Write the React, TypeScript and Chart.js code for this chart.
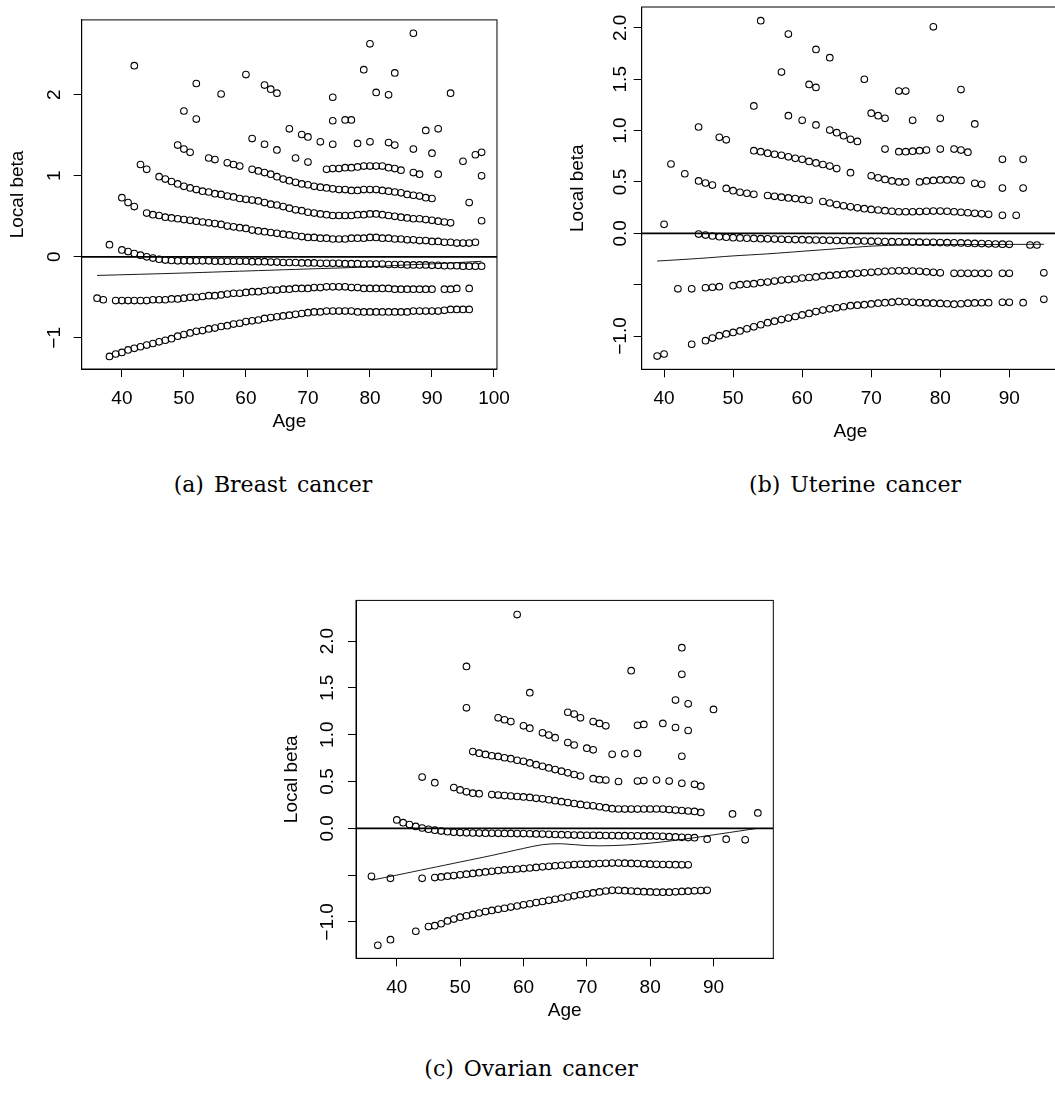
import React, { useEffect, useRef } from 'react';
import { Chart, registerables } from 'chart.js';

Chart.register(...registerables);

type Pt = [number, number];

// ---------------- (a) Breast cancer ----------------
const breastTop: Pt[] = [
  [42, 2.36], [50, 1.8], [52, 2.14], [52, 1.7], [56, 2.01], [60, 2.25], [61, 1.46], [63, 2.12], [63, 1.39],
  [64, 2.07], [65, 2.02], [65, 1.32], [67, 1.58], [68, 1.22], [69, 1.51], [70, 1.48], [70, 1.17], [72, 1.42],
  [74, 1.97], [74, 1.68], [74, 1.39], [76, 1.69], [77, 1.69], [78, 1.4], [79, 2.31], [80, 2.63], [80, 1.42],
  [81, 2.03], [83, 2.0], [83, 1.41], [84, 2.27], [84, 1.38], [87, 2.76], [87, 1.33], [87, 1.04], [88, 1.02],
  [89, 1.56], [90, 1.28], [91, 1.58], [91, 1.02], [93, 2.02], [95, 1.18], [96, 0.67], [97, 1.26], [98, 1.29],
  [98, 1.0], [98, 0.445],
];
const breastRow11: Pt[] = [
  [73, 1.08], [74, 1.09], [75, 1.09], [76, 1.1], [77, 1.1], [78, 1.11], [79, 1.12], [80, 1.12], [81, 1.12],
  [82, 1.12], [83, 1.1], [84, 1.09], [85, 1.07],
];
const breastRow08: Pt[] = [
  [49, 1.38], [50, 1.33], [51, 1.29], [54, 1.22], [55, 1.2], [57, 1.16], [58, 1.14], [59, 1.12], [61, 1.08],
  [62, 1.06], [63, 1.04], [64, 1.02], [65, 0.99], [66, 0.96], [67, 0.94], [68, 0.92], [69, 0.9], [70, 0.89],
  [71, 0.87], [72, 0.86], [73, 0.85], [74, 0.84], [75, 0.83], [76, 0.83], [77, 0.82], [78, 0.82], [79, 0.83],
  [80, 0.83], [81, 0.83], [82, 0.82], [83, 0.81], [84, 0.8], [85, 0.79], [86, 0.77], [87, 0.76], [88, 0.75],
  [89, 0.73], [90, 0.72],
];
const breastRow05: Pt[] = [
  [43, 1.14], [44, 1.08], [46, 0.99], [47, 0.96], [48, 0.93], [49, 0.9], [50, 0.87], [51, 0.85], [52, 0.83],
  [53, 0.81], [54, 0.8], [55, 0.78], [56, 0.77], [57, 0.75], [58, 0.74], [59, 0.72], [60, 0.71], [61, 0.7],
  [62, 0.69], [63, 0.67], [64, 0.65], [65, 0.64], [66, 0.62], [67, 0.6], [68, 0.58], [69, 0.57], [70, 0.55],
  [71, 0.54], [72, 0.53], [73, 0.52], [74, 0.51], [75, 0.51], [76, 0.51], [77, 0.51], [78, 0.52], [79, 0.52],
  [80, 0.53], [81, 0.53], [82, 0.52], [83, 0.51], [84, 0.5], [85, 0.49], [86, 0.48], [87, 0.47], [88, 0.47],
  [89, 0.46], [90, 0.45], [91, 0.44], [92, 0.43], [93, 0.42],
];
const breastRow02: Pt[] = [
  [40, 0.73], [41, 0.67], [42, 0.62], [44, 0.54], [45, 0.52], [46, 0.51], [47, 0.49], [48, 0.48], [49, 0.47],
  [50, 0.46], [51, 0.45], [52, 0.44], [53, 0.43], [54, 0.42], [55, 0.41], [56, 0.4], [57, 0.38], [58, 0.37],
  [59, 0.36], [60, 0.35], [61, 0.33], [62, 0.32], [63, 0.31], [64, 0.3], [65, 0.29], [66, 0.28], [67, 0.27],
  [68, 0.26], [69, 0.25], [70, 0.24], [71, 0.24], [72, 0.23], [73, 0.23], [74, 0.22], [75, 0.22], [76, 0.22],
  [77, 0.23], [78, 0.23], [79, 0.23], [80, 0.24], [81, 0.24], [82, 0.23], [83, 0.23], [84, 0.22], [85, 0.22],
  [86, 0.21], [87, 0.21], [88, 0.2], [89, 0.2], [90, 0.19], [91, 0.19], [92, 0.18], [93, 0.18], [94, 0.17],
  [95, 0.17], [96, 0.17], [97, 0.18],
];
const breastRow00: Pt[] = [
  [38, 0.15], [40, 0.085], [41, 0.065], [42, 0.04], [43, 0.02], [44, 0.0], [45, -0.015], [46, -0.03],
  [47, -0.04], [48, -0.045], [49, -0.05], [50, -0.05], [51, -0.05], [52, -0.05], [53, -0.05], [54, -0.05],
  [55, -0.055], [56, -0.055], [57, -0.055], [58, -0.055], [59, -0.055], [60, -0.055], [61, -0.06], [62, -0.06],
  [63, -0.06], [64, -0.065], [65, -0.065], [66, -0.07], [67, -0.07], [68, -0.07], [69, -0.075], [70, -0.075],
  [71, -0.075], [72, -0.08], [73, -0.08], [74, -0.08], [75, -0.08], [76, -0.085], [77, -0.085], [78, -0.085],
  [79, -0.09], [80, -0.09], [81, -0.09], [82, -0.09], [83, -0.095], [84, -0.095], [85, -0.095], [86, -0.1],
  [87, -0.1], [88, -0.1], [89, -0.1], [90, -0.105], [91, -0.105], [92, -0.11], [93, -0.11], [94, -0.11],
  [95, -0.115], [96, -0.115], [97, -0.115], [98, -0.115],
];
const breastRowM04: Pt[] = [
  [36, -0.51], [37, -0.53], [39, -0.54], [40, -0.54], [41, -0.54], [42, -0.54], [43, -0.54], [44, -0.54],
  [45, -0.53], [46, -0.53], [47, -0.53], [48, -0.52], [49, -0.52], [50, -0.51], [51, -0.5], [52, -0.5],
  [53, -0.49], [54, -0.48], [55, -0.48], [56, -0.47], [57, -0.46], [58, -0.45], [59, -0.45], [60, -0.44],
  [61, -0.43], [62, -0.43], [63, -0.42], [64, -0.41], [65, -0.41], [66, -0.4], [67, -0.4], [68, -0.39],
  [69, -0.39], [70, -0.39], [71, -0.38], [72, -0.38], [73, -0.37], [74, -0.37], [75, -0.37], [76, -0.37],
  [77, -0.38], [78, -0.38], [79, -0.39], [80, -0.39], [81, -0.39], [82, -0.39], [83, -0.39], [84, -0.4],
  [85, -0.4], [86, -0.4], [87, -0.4], [88, -0.4], [89, -0.4], [90, -0.4], [92, -0.4], [93, -0.4], [94, -0.39],
  [96, -0.39],
];
const breastRowM07: Pt[] = [
  [38, -1.23], [39, -1.2], [40, -1.18], [41, -1.15], [42, -1.13], [43, -1.11], [44, -1.09], [45, -1.07],
  [46, -1.05], [47, -1.03], [48, -1.01], [49, -0.98], [50, -0.96], [51, -0.94], [52, -0.92], [53, -0.91],
  [54, -0.89], [55, -0.88], [56, -0.86], [57, -0.85], [58, -0.83], [59, -0.82], [60, -0.8], [61, -0.79],
  [62, -0.78], [63, -0.76], [64, -0.75], [65, -0.74], [66, -0.73], [67, -0.72], [68, -0.71], [69, -0.7],
  [70, -0.69], [71, -0.68], [72, -0.68], [73, -0.67], [74, -0.67], [75, -0.67], [76, -0.67], [77, -0.67],
  [78, -0.68], [79, -0.68], [80, -0.68], [81, -0.68], [82, -0.68], [83, -0.68], [84, -0.68], [85, -0.68],
  [86, -0.68], [87, -0.67], [88, -0.67], [89, -0.67], [90, -0.67], [91, -0.67], [92, -0.66], [93, -0.65],
  [94, -0.65], [95, -0.65], [96, -0.65],
];
const breastSmooth: Pt[] = [
  [36, -0.23], [50, -0.2], [62, -0.17], [70, -0.15], [78, -0.13], [86, -0.1], [92, -0.08], [98, -0.055],
];
const breastXTicks = [40, 50, 60, 70, 80, 90, 100];
const breastYTicks = [-1, 0, 1, 2];
const breastYLabels = ['\u22121', '0', '1', '2'];

// ---------------- (b) Uterine cancer ----------------
const uterineTop: Pt[] = [
  [54, 2.07], [58, 1.94], [57, 1.57], [62, 1.79], [64, 1.71], [61, 1.45], [62, 1.42], [69, 1.5], [74, 1.385],
  [75, 1.385], [79, 2.01], [83, 1.4], [53, 1.24], [45, 1.035], [58, 1.145], [60, 1.1], [62, 1.055], [64, 1.005],
  [65, 0.98], [66, 0.95], [67, 0.915], [68, 0.895], [70, 1.17], [71, 1.145], [72, 1.12], [76, 1.1], [80, 1.12],
  [85, 1.065], [48, 0.935], [49, 0.91], [72, 0.82], [74, 0.795], [75, 0.795], [76, 0.8], [77, 0.805],
  [78, 0.81], [80, 0.82], [82, 0.82], [83, 0.81], [84, 0.79], [89, 0.72], [92, 0.72], [40, 0.088],
];
const uterineRow05: Pt[] = [
  [53, 0.805], [54, 0.795], [55, 0.78], [56, 0.77], [57, 0.76], [58, 0.745], [59, 0.73], [60, 0.72], [61, 0.7],
  [62, 0.685], [63, 0.67], [64, 0.655], [65, 0.63], [67, 0.59], [70, 0.56], [71, 0.54], [72, 0.525], [73, 0.51],
  [74, 0.5], [75, 0.5], [77, 0.5], [78, 0.51], [79, 0.515], [80, 0.52], [81, 0.52], [82, 0.52], [83, 0.515],
  [85, 0.487], [86, 0.477], [89, 0.44], [92, 0.44],
];
const uterineRow02: Pt[] = [
  [41, 0.675], [43, 0.58], [45, 0.51], [46, 0.49], [47, 0.47], [49, 0.437], [50, 0.415], [51, 0.4], [52, 0.39],
  [53, 0.38], [55, 0.368], [56, 0.36], [57, 0.352], [58, 0.345], [59, 0.338], [60, 0.33], [61, 0.322],
  [63, 0.31], [64, 0.295], [65, 0.28], [66, 0.268], [67, 0.258], [68, 0.248], [69, 0.24], [70, 0.233],
  [71, 0.227], [72, 0.22], [73, 0.215], [74, 0.21], [75, 0.21], [76, 0.21], [77, 0.212], [78, 0.215],
  [79, 0.217], [80, 0.217], [81, 0.215], [82, 0.21], [83, 0.205], [84, 0.2], [85, 0.195], [86, 0.19],
  [87, 0.185], [89, 0.175], [91, 0.175],
];
const uterineRow00: Pt[] = [
  [45, -0.007], [46, -0.017], [47, -0.026], [48, -0.033], [49, -0.038], [50, -0.042], [51, -0.045], [52, -0.048],
  [53, -0.05], [54, -0.052], [55, -0.054], [56, -0.056], [57, -0.058], [58, -0.06], [59, -0.061], [60, -0.062],
  [61, -0.064], [62, -0.065], [63, -0.067], [64, -0.068], [65, -0.07], [66, -0.071], [67, -0.072], [68, -0.074],
  [69, -0.075], [70, -0.077], [71, -0.078], [72, -0.08], [73, -0.081], [74, -0.082], [75, -0.084], [76, -0.085],
  [77, -0.086], [78, -0.087], [79, -0.088], [80, -0.09], [81, -0.091], [82, -0.093], [83, -0.094], [84, -0.096],
  [85, -0.098], [86, -0.1], [87, -0.102], [88, -0.104], [89, -0.106], [90, -0.107], [93, -0.114], [94, -0.114],
];
const uterineRowM04: Pt[] = [
  [42, -0.54], [44, -0.54], [46, -0.53], [47, -0.525], [48, -0.52], [50, -0.51], [51, -0.5], [52, -0.495],
  [53, -0.49], [54, -0.48], [55, -0.475], [56, -0.465], [57, -0.455], [58, -0.45], [59, -0.445], [60, -0.435],
  [61, -0.43], [62, -0.425], [63, -0.415], [64, -0.41], [65, -0.405], [66, -0.4], [67, -0.395], [68, -0.39],
  [69, -0.385], [70, -0.38], [71, -0.375], [72, -0.37], [73, -0.367], [74, -0.365], [75, -0.365], [76, -0.367],
  [77, -0.37], [78, -0.375], [79, -0.38], [80, -0.385], [82, -0.39], [83, -0.39], [84, -0.39], [85, -0.39],
  [86, -0.39], [87, -0.39], [89, -0.39], [90, -0.39], [95, -0.385],
];
const uterineRowM07: Pt[] = [
  [39, -1.195], [40, -1.175], [44, -1.08], [46, -1.045], [47, -1.02], [48, -0.997], [49, -0.98], [50, -0.965],
  [51, -0.95], [52, -0.93], [53, -0.91], [54, -0.89], [55, -0.87], [56, -0.855], [57, -0.84], [58, -0.825],
  [59, -0.81], [60, -0.795], [61, -0.78], [62, -0.762], [63, -0.747], [64, -0.735], [65, -0.725], [66, -0.715],
  [67, -0.705], [68, -0.7], [69, -0.695], [70, -0.687], [71, -0.68], [72, -0.675], [73, -0.67], [74, -0.665],
  [75, -0.667], [76, -0.672], [77, -0.675], [78, -0.678], [79, -0.68], [80, -0.683], [81, -0.686], [82, -0.69],
  [83, -0.686], [84, -0.68], [85, -0.678], [86, -0.676], [87, -0.675], [89, -0.672], [90, -0.672], [92, -0.675],
  [95, -0.643],
];
const uterineSmooth: Pt[] = [
  [39, -0.27], [45, -0.245], [50, -0.22], [55, -0.2], [60, -0.175], [65, -0.15], [70, -0.125], [75, -0.113],
  [80, -0.11], [90, -0.108], [95, -0.107],
];
const uterineXTicks = [40, 50, 60, 70, 80, 90];
const uterineYTicks = [-1, -0.5, 0, 0.5, 1, 1.5, 2];
const uterineYLabels = ['\u22121.0', '', '0.0', '0.5', '1.0', '1.5', '2.0'];

// ---------------- (c) Ovarian cancer ----------------
const ovarianTop: Pt[] = [
  [59, 2.284], [51, 1.73], [51, 1.287], [61, 1.449], [85, 1.93], [85, 1.645], [77, 1.684], [84, 1.37], [86, 1.33],
  [90, 1.27], [84, 1.077], [86, 1.045], [85, 0.77], [82, 1.12], [78, 1.1], [79, 1.11], [67, 1.24], [68, 1.22],
  [69, 1.18], [71, 1.14], [72, 1.12], [73, 1.095], [56, 1.18], [57, 1.16], [58, 1.14], [60, 1.095], [61, 1.07],
  [63, 1.02], [64, 0.996], [65, 0.968], [67, 0.916], [68, 0.89], [70, 0.856], [71, 0.838], [74, 0.79],
  [76, 0.796], [78, 0.8], [44, 0.547], [46, 0.487], [93, 0.154], [97, 0.164],
];
const ovarianRow05: Pt[] = [
  [52, 0.82], [53, 0.803], [54, 0.789], [55, 0.775], [56, 0.768], [57, 0.754], [58, 0.744], [59, 0.727],
  [60, 0.716], [61, 0.698], [62, 0.68], [63, 0.663], [64, 0.645], [65, 0.627], [66, 0.61], [67, 0.593],
  [68, 0.575], [69, 0.558], [71, 0.53], [72, 0.52], [73, 0.515], [75, 0.5], [78, 0.505], [79, 0.51],
  [81, 0.515], [83, 0.505], [85, 0.48], [87, 0.47], [88, 0.45],
];
const ovarianRow02: Pt[] = [
  [49, 0.435], [50, 0.41], [51, 0.39], [52, 0.375], [53, 0.37], [55, 0.36], [56, 0.355], [57, 0.35], [58, 0.345],
  [59, 0.34], [60, 0.335], [61, 0.33], [62, 0.32], [63, 0.315], [64, 0.305], [65, 0.295], [66, 0.285],
  [67, 0.275], [68, 0.265], [69, 0.255], [70, 0.245], [71, 0.24], [72, 0.23], [73, 0.22], [74, 0.21],
  [75, 0.206], [76, 0.205], [77, 0.205], [78, 0.205], [79, 0.206], [80, 0.206], [81, 0.206], [82, 0.205],
  [83, 0.2], [84, 0.195], [85, 0.19], [86, 0.185], [87, 0.18], [88, 0.17],
];
const ovarianRow00: Pt[] = [
  [40, 0.09], [41, 0.06], [42, 0.04], [43, 0.02], [44, 0.003], [45, -0.01], [46, -0.02], [47, -0.03],
  [48, -0.037], [49, -0.042], [50, -0.046], [51, -0.048], [52, -0.05], [53, -0.051], [54, -0.052], [55, -0.053],
  [56, -0.054], [57, -0.055], [58, -0.055], [59, -0.056], [60, -0.056], [61, -0.058], [62, -0.06], [63, -0.062],
  [64, -0.064], [65, -0.066], [66, -0.068], [67, -0.07], [68, -0.072], [69, -0.073], [70, -0.074], [71, -0.075],
  [72, -0.076], [73, -0.077], [74, -0.078], [75, -0.079], [76, -0.079], [77, -0.08], [78, -0.08], [79, -0.081],
  [80, -0.081], [81, -0.083], [82, -0.086], [83, -0.089], [84, -0.092], [85, -0.096], [86, -0.099], [87, -0.1],
  [89, -0.116], [92, -0.116], [95, -0.123],
];
const ovarianRowM04: Pt[] = [
  [36, -0.513], [39, -0.534], [44, -0.534], [46, -0.527], [47, -0.52], [48, -0.512], [49, -0.505], [50, -0.497],
  [51, -0.49], [52, -0.482], [53, -0.474], [54, -0.466], [55, -0.459], [56, -0.452], [57, -0.445], [58, -0.44],
  [59, -0.435], [60, -0.43], [61, -0.424], [62, -0.418], [63, -0.412], [64, -0.406], [65, -0.4], [66, -0.396],
  [67, -0.392], [68, -0.388], [69, -0.385], [70, -0.383], [71, -0.38], [72, -0.377], [73, -0.374], [74, -0.372],
  [75, -0.372], [76, -0.373], [77, -0.375], [78, -0.377], [79, -0.38], [80, -0.383], [81, -0.385], [82, -0.387],
  [83, -0.388], [84, -0.389], [85, -0.39], [86, -0.39],
];
const ovarianRowM07: Pt[] = [
  [37, -1.25], [39, -1.19], [43, -1.1], [45, -1.05], [46, -1.04], [47, -1.02], [48, -0.99], [49, -0.97],
  [50, -0.95], [51, -0.935], [52, -0.92], [53, -0.905], [54, -0.89], [55, -0.878], [56, -0.866], [57, -0.854],
  [58, -0.842], [59, -0.83], [60, -0.818], [61, -0.806], [62, -0.794], [63, -0.782], [64, -0.77], [65, -0.758],
  [66, -0.746], [67, -0.734], [68, -0.722], [69, -0.71], [70, -0.7], [71, -0.69], [72, -0.68], [73, -0.67],
  [74, -0.663], [75, -0.663], [76, -0.666], [77, -0.67], [78, -0.674], [79, -0.677], [80, -0.68], [81, -0.682],
  [82, -0.683], [83, -0.682], [84, -0.679], [85, -0.675], [86, -0.672], [87, -0.668], [88, -0.665], [89, -0.663],
];
const ovarianSmooth: Pt[] = [
  [36, -0.555], [40, -0.5], [45, -0.43], [50, -0.36], [55, -0.29], [60, -0.215], [63, -0.175], [66, -0.165],
  [70, -0.185], [74, -0.185], [78, -0.17], [82, -0.145], [86, -0.11], [91, -0.06], [97, 0.0],
];
const ovarianXTicks = [40, 50, 60, 70, 80, 90];
const ovarianYTicks = [-1, -0.5, 0, 0.5, 1, 1.5, 2];
const ovarianYLabels = ['\u22121.0', '', '0.0', '0.5', '1.0', '1.5', '2.0'];

// ---------------- layout / style ----------------
const SANS = '"Liberation Sans", Arial, Helvetica, sans-serif';
const SERIF = '"DejaVu Serif", "Liberation Serif", serif';
const FONT_SIZE = 19;

interface PanelSpec {
  rows: Pt[][];
  smooth: Pt[];
  xMin: number; xMax: number; yMin: number; yMax: number;
  xTicks: number[]; yTicks: number[]; yLabels: string[];
  left: number; top: number; width: number; height: number;
  padTop: number; padRight: number; padBottom: number;
  yAxisWidth: number; xAxisHeight: number;
  yTickPad: number; xTickPad: number; yTitlePad: number;
}

const panels: PanelSpec[] = [
  {
    rows: [breastTop, breastRow11, breastRow08, breastRow05, breastRow02, breastRow00, breastRowM04, breastRowM07],
    smooth: breastSmooth,
    xMin: 33.52, xMax: 100.48, yMin: -1.385, yMax: 2.925,
    xTicks: breastXTicks, yTicks: breastYTicks, yLabels: breastYLabels,
    left: 0, top: 0, width: 520, height: 440,
    padTop: 7, padRight: 22, padBottom: 6.6,
    yAxisWidth: 81.7, xAxisHeight: 64.4,
    yTickPad: 8.5, xTickPad: 10, yTitlePad: 6.1,
  },
  {
    rows: [uterineTop, uterineRow05, uterineRow02, uterineRow00, uterineRowM04, uterineRowM07],
    smooth: uterineSmooth,
    xMin: 36.76, xMax: 97.24, yMin: -1.324, yMax: 2.2035,
    xTicks: uterineXTicks, yTicks: uterineYTicks, yLabels: uterineYLabels,
    left: 560, top: 0, width: 520, height: 450,
    padTop: 7, padRight: 20.7, padBottom: 6.6,
    yAxisWidth: 81.7, xAxisHeight: 74.1,
    yTickPad: -6, xTickPad: 10, yTitlePad: 6.6,
  },
  {
    rows: [ovarianTop, ovarianRow05, ovarianRow02, ovarianRow00, ovarianRowM04, ovarianRowM07],
    smooth: ovarianSmooth,
    xMin: 33.56, xMax: 99.44, yMin: -1.389, yMax: 2.435,
    xTicks: ovarianXTicks, yTicks: ovarianYTicks, yLabels: ovarianYLabels,
    left: 274, top: 588, width: 520, height: 440,
    padTop: 7, padRight: 20.7, padBottom: 5.6,
    yAxisWidth: 82, xAxisHeight: 64.1,
    yTickPad: 1, xTickPad: 10, yTitlePad: 6.6,
  },
];

const captions = [
  { text: '(a) Breast cancer', cx: 273, cy: 485 },
  { text: '(b) Uterine cancer', cx: 855, cy: 485 },
  { text: '(c) Ovarian cancer', cx: 531, cy: 1069 },
];

const boxPlugin = {
  id: 'plotBox',
  afterDatasetsDraw(chart: any) {
    const { ctx, chartArea: a } = chart;
    ctx.save();
    ctx.strokeStyle = '#000';
    ctx.lineWidth = 1;
    ctx.strokeRect(a.left, a.top, a.right - a.left, a.bottom - a.top);
    ctx.restore();
  },
};

function Panel({ spec }: { spec: PanelSpec }) {
  const ref = useRef<HTMLCanvasElement>(null);
  useEffect(() => {
    const canvas = ref.current;
    if (!canvas) return;
    const pointSets = spec.rows.map((r) => ({
      type: 'scatter' as const,
      data: r.map(([x, y]) => ({ x, y })),
      pointStyle: 'circle',
      pointRadius: 3.3,
      pointBorderWidth: 1.1,
      borderColor: '#000',
      backgroundColor: 'rgba(0,0,0,0)',
      showLine: false,
    }));
    const zeroLine = {
      type: 'line' as const,
      data: [{ x: spec.xMin, y: 0 }, { x: spec.xMax, y: 0 }],
      borderColor: '#000',
      borderWidth: 1.8,
      pointRadius: 0,
      fill: false,
      showLine: true,
    };
    const smoothLine = {
      type: 'line' as const,
      data: spec.smooth.map(([x, y]) => ({ x, y })),
      borderColor: '#000',
      borderWidth: 0.9,
      pointRadius: 0,
      tension: 0.35,
      fill: false,
      showLine: true,
    };
    const grid = {
      display: true,
      drawOnChartArea: false,
      drawTicks: true,
      tickLength: 8,
      color: '#000',
      lineWidth: 1,
    };
    const font = { family: SANS, size: FONT_SIZE };
    const chart = new Chart(canvas, {
      type: 'scatter',
      data: { datasets: [...pointSets, zeroLine, smoothLine] as any },
      options: {
        responsive: false,
        animation: false,
        devicePixelRatio: 1,
        events: [],
        layout: { padding: { top: spec.padTop, right: spec.padRight, bottom: spec.padBottom, left: 0 } },
        plugins: { legend: { display: false }, tooltip: { enabled: false } },
        scales: {
          x: {
            type: 'linear',
            position: 'bottom',
            min: spec.xMin,
            max: spec.xMax,
            afterBuildTicks: (s: any) => { s.ticks = spec.xTicks.map((v) => ({ value: v })); },
            afterFit: (s: any) => { s.height = spec.xAxisHeight; },
            grid,
            border: { display: true, color: '#000', width: 1 },
            ticks: {
              autoSkip: false, minRotation: 0, maxRotation: 0, padding: spec.xTickPad,
              color: '#000', font, callback: (v: any) => String(v),
            },
            title: { display: true, text: 'Age', color: '#000', font, padding: { top: 0, bottom: 0 } },
          },
          y: {
            type: 'linear',
            position: 'left',
            min: spec.yMin,
            max: spec.yMax,
            afterBuildTicks: (s: any) => { s.ticks = spec.yTicks.map((v) => ({ value: v })); },
            afterFit: (s: any) => { s.width = spec.yAxisWidth; },
            grid,
            border: { display: true, color: '#000', width: 1 },
            ticks: {
              autoSkip: false, minRotation: 90, maxRotation: 90, crossAlign: 'center', padding: spec.yTickPad,
              color: '#000', font, callback: (_v: any, i: number) => spec.yLabels[i],
            },
            title: { display: true, text: 'Local beta', color: '#000', font, padding: { top: spec.yTitlePad, bottom: 0 } },
          },
        },
      } as any,
      plugins: [boxPlugin],
    });
    return () => chart.destroy();
  }, [spec]);
  return (
    <canvas
      ref={ref}
      width={spec.width}
      height={spec.height}
      style={{ position: 'absolute', left: spec.left, top: spec.top, width: spec.width, height: spec.height }}
    />
  );
}

export default function App() {
  return (
    <div style={{ position: 'absolute', left: 0, top: 0, width: 1055, height: 1095, overflow: 'hidden', background: '#fff' }}>
      {panels.map((p, i) => <Panel key={i} spec={p} />)}
      {captions.map((c, i) => (
        <div
          key={'c' + i}
          style={{
            position: 'absolute', left: c.cx - 200, top: c.cy - 14, width: 400, height: 28, lineHeight: '28px',
            textAlign: 'center', fontFamily: SERIF, fontSize: 22, color: '#000', wordSpacing: 3, whiteSpace: 'pre',
          }}
        >
          {c.text}
        </div>
      ))}
    </div>
  );
}
